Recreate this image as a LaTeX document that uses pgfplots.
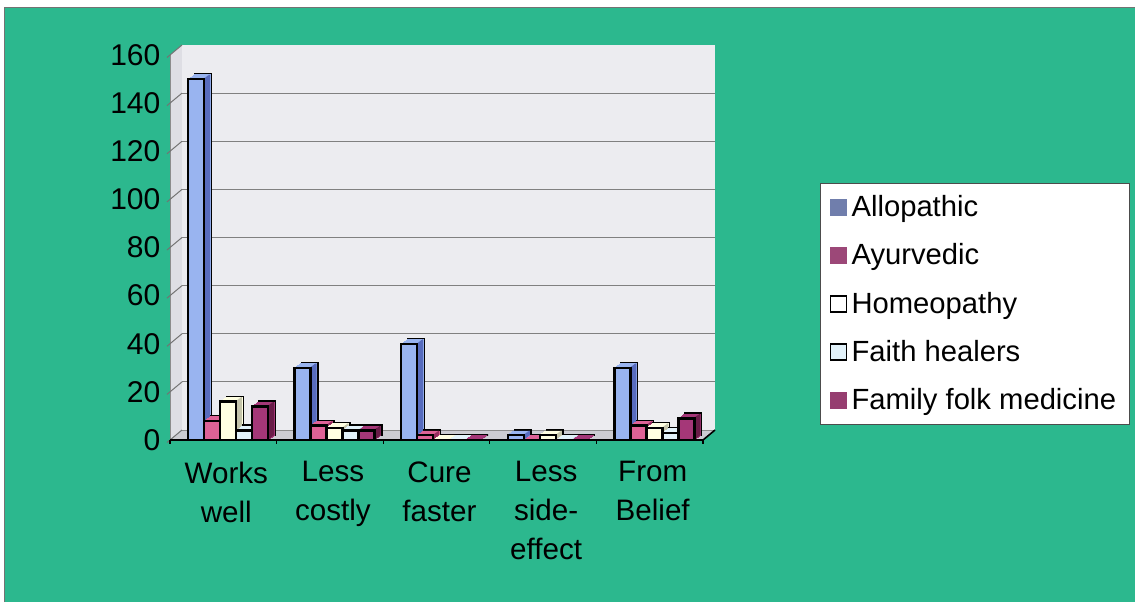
\documentclass[border=0pt]{standalone}
\usepackage{fontspec}
\setmainfont{Liberation Sans}
\usepackage{pgfplots}
\usepackage{pgfplotstable}
\pgfplotsset{compat=1.18}

\definecolor{tealbg}{RGB}{44,184,142}
\definecolor{wall}{RGB}{236,236,240}
\definecolor{sidewall}{RGB}{222,222,228}
\definecolor{floor}{RGB}{204,204,210}
\definecolor{alloF}{RGB}{153,180,240}
\definecolor{alloS}{RGB}{88,108,190}
\definecolor{alloL}{RGB}{112,126,172}
\definecolor{ayurF}{RGB}{222,98,150}
\definecolor{ayurS}{RGB}{150,45,95}
\definecolor{ayurL}{RGB}{156,72,120}
\definecolor{homeoF}{RGB}{255,255,226}
\definecolor{homeoS}{RGB}{196,196,170}
\definecolor{faithF}{RGB}{226,242,250}
\definecolor{faithS}{RGB}{165,182,198}
\definecolor{folkF}{RGB}{165,55,120}
\definecolor{folkS}{RGB}{105,28,72}
\definecolor{folkL}{RGB}{150,62,112}

% responses per reason (columns: type of medicine)
\pgfplotstableread{
x allo ayur homeo faith folk
0 150 8 16 4 14
1 30 6 5 4 4
2 40 2 0 0 0
3 2 0 2 0 0
4 30 6 5 3 9
}\bardata

% one series of box-shaped bars:
% #1 column, #2 face colour, #3 side colour, #4 bar shift, #5 shift of right edge
\newcommand\boxbars[5]{%
  \addplot[forget plot, fill=#2, draw=black, line width=1pt, bar shift=#4,
    xshift=3.5pt, yshift=2.5pt] table[x=x,y=#1]{\bardata};
  \pgfplotsinvokeforeach{6,5,4,3,2,1}{%
    \addplot[forget plot, fill=#2, draw=#2, line width=0.4pt, bar shift=#4,
      xshift=##1*0.5pt, yshift=##1*0.357pt] table[x=x,y=#1]{\bardata};}
  \pgfplotsinvokeforeach{1,2,3,4,5,6}{%
    \addplot[forget plot, fill=#3, draw=none, bar width=0.7pt, bar shift=#5,
      xshift=##1*0.5pt-0.35pt, yshift=##1*0.357pt] table[x=x,y=#1]{\bardata};}
  \addplot[forget plot, fill=#2, draw=black, line width=1.2pt, bar shift=#4]
    table[x=x,y=#1]{\bardata};
}

\pgfplotsset{
  legsq/.style={legend image code/.code={\draw[##1] (0pt,-4pt) rectangle (8pt,4pt);}},
}

\begin{document}
\begin{tikzpicture}
\useasboundingbox (0,0) rectangle (567.5pt,301pt);
\fill[white] (0,0) rectangle (567.5pt,301pt);
\fill[tealbg] (2pt,0) rectangle (567.5pt,297.5pt);
\draw[black!55, line width=0.5pt] (2pt,0) -- (2pt,297.5pt) -- (567.5pt,297.5pt);

% walls and floor of the box
\fill[sidewall] (85pt,81pt) -- (85pt,273.5pt) -- (91pt,278.5pt) -- (91pt,86pt) -- cycle;
\fill[wall] (91pt,86pt) rectangle (357.5pt,278.5pt);
\fill[floor] (85pt,81pt) -- (351.5pt,81pt) -- (357.5pt,86pt) -- (91pt,86pt) -- cycle;
\draw[black!45, line width=0.4pt] (91pt,86pt) -- (357.5pt,86pt);
\draw[black!45, line width=0.4pt] (85pt,81pt) -- (85pt,273.5pt);
\foreach \v in {0,20,...,160}
  \draw[black!55, line width=0.5pt] (83.5pt,{81pt+\v*1.203125pt-1.25pt}) -- (91pt,{81pt+\v*1.203125pt+5pt});

\begin{axis}[
  at={(85pt,81pt)}, anchor=south west,
  scale only axis, width=266.5pt, height=192.5pt,
  xmin=-0.5, xmax=4.5, ymin=0, ymax=160,
  ybar, bar width=0.15, clip=false,
  axis line style={draw=none},
  tick style={draw=none},
  xtick={0,1,2,3,4},
  xticklabels={{Works\\well},{Less\\costly},{Cure\\faster},{Less\\side-\\effect},{From\\Belief}},
  xticklabel style={align=center, font=\fontsize{14.8}{19.5}\selectfont, yshift=-3pt, xshift=1.5pt},
  ytick={0,20,...,160},
  yticklabel style={font=\fontsize{15}{17}\selectfont, xshift=-1.3pt},
  /pgf/number format/assume math mode=true,
  extra y ticks={20,40,...,140},
  extra y tick labels={},
  extra y tick style={grid=major},
  major grid style={draw=black!50, line width=0.6pt, xshift=6pt, yshift=5pt},
  legend cell align=left,
  legend style={at={(1.2195,0.6675)}, anchor=north west, fill=white,
    draw=black!70, line width=0.6pt, inner xsep=4.5pt, inner ysep=4pt,
    font=\fontsize{14.6}{17}\selectfont, row sep=8pt,
    nodes={inner sep=2pt, inner xsep=2.2pt}},
]
\addlegendimage{legsq, fill=alloL, draw=alloL}
\addlegendentry{Allopathic}
\addlegendimage{legsq, fill=ayurL, draw=ayurL}
\addlegendentry{Ayurvedic}
\addlegendimage{legsq, fill=white, draw=black, line width=0.8pt}
\addlegendentry{Homeopathy}
\addlegendimage{legsq, fill=faithF, draw=black, line width=0.8pt}
\addlegendentry{Faith healers}
\addlegendimage{legsq, fill=folkL, draw=folkL}
\addlegendentry{Family folk medicine}

\boxbars{allo}{alloF}{alloS}{-0.256}{-0.181}
\boxbars{ayur}{ayurF}{ayurS}{-0.106}{-0.031}
\boxbars{homeo}{homeoF}{homeoS}{0.044}{0.119}
\boxbars{faith}{faithF}{faithS}{0.194}{0.269}
\boxbars{folk}{folkF}{folkS}{0.344}{0.419}
\end{axis}

% front edge of the floor with category dividers
\draw[black, line width=0.8pt] (85pt,81pt) -- (351.5pt,81pt) -- (357.5pt,86pt);
\foreach \k in {0,...,5}
  \draw[black, line width=0.6pt] ({85pt+\k*53.3pt},81pt) -- ++(0,-2pt);
\end{tikzpicture}
\end{document}
